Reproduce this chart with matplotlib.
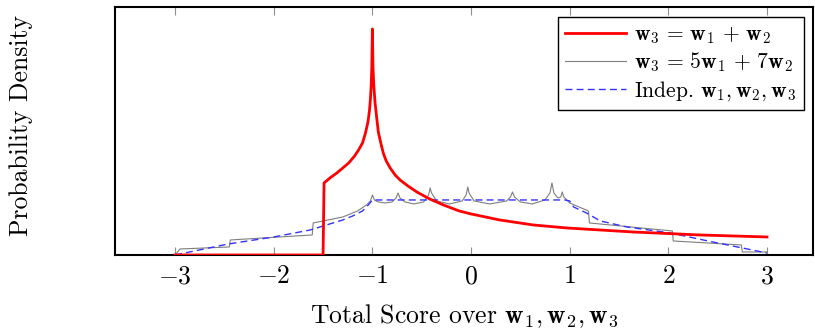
import matplotlib
matplotlib.use("Agg")
import matplotlib.pyplot as plt

plt.rcParams['font.family'] = 'serif'
plt.rcParams['font.serif'] = ['cmr10']
plt.rcParams['mathtext.fontset'] = 'cm'
plt.rcParams['axes.formatter.use_mathtext'] = True

# w3 = w1 + w2
red_x = [-3.0, -1.5, -1.49, -1.43, -1.36, -1.30, -1.24, -1.18, -1.14, -1.10, -1.07,
         -1.045, -1.03, -1.02, -1.012, -1.006, -1.0,
         -0.994, -0.986, -0.973, -0.955, -0.94, -0.915, -0.89, -0.86, -0.82, -0.77,
         -0.72, -0.64, -0.55, -0.42, -0.28, -0.12,
         0.0, 0.29, 0.63, 0.97, 1.64, 2.32, 3.0]
red_y = [0.0, 0.0, 0.72, 0.77, 0.82, 0.87, 0.92, 0.99, 1.05, 1.12, 1.22,
         1.33, 1.44, 1.56, 1.70, 1.88, 2.26,
         1.88, 1.70, 1.52, 1.36, 1.23, 1.12, 1.02, 0.94, 0.87, 0.80,
         0.75, 0.69, 0.63, 0.56, 0.50, 0.44,
         0.41, 0.35, 0.30, 0.27, 0.23, 0.20, 0.18]

# w3 = 5w1 + 7w2
gray_x = [-3.00, -2.95, -2.45, -2.44, -1.61, -1.60, -1.30, -1.15, -1.06, -1.02, -1.00,
          -0.98, -0.94, -0.87, -0.80, -0.76, -0.74,
          -0.72, -0.67, -0.58, -0.48, -0.43, -0.415,
          -0.40, -0.35, -0.22, -0.09, -0.05, -0.033,
          -0.02, 0.03, 0.19, 0.36, 0.40, 0.42,
          0.44, 0.50, 0.62, 0.75, 0.80, 0.82,
          0.84, 0.88, 0.91, 0.925,
          0.94, 1.00, 1.19, 1.20, 2.04, 2.05, 2.74, 2.75, 3.00]
gray_y = [0.0, 0.06, 0.08, 0.15, 0.20, 0.32, 0.38, 0.44, 0.50, 0.54, 0.60,
          0.55, 0.53, 0.52, 0.53, 0.57, 0.62,
          0.57, 0.53, 0.51, 0.53, 0.60, 0.67,
          0.62, 0.54, 0.51, 0.54, 0.60, 0.68,
          0.62, 0.54, 0.51, 0.54, 0.58, 0.63,
          0.58, 0.53, 0.51, 0.55, 0.62, 0.72,
          0.62, 0.57, 0.58, 0.63,
          0.58, 0.52, 0.44, 0.32, 0.24, 0.14, 0.10, 0.03, 0.03]

# independent w1, w2, w3
blue_x = [-3.0, -2.46, -2.0, -1.63, -1.3, -1.2, -1.1, -1.05, -1.0, 0.95, 1.0,
          1.04, 1.17, 1.31, 1.58, 2.02, 2.45, 3.0]
blue_y = [0.0, 0.11, 0.18, 0.25, 0.35, 0.39, 0.44, 0.49, 0.55, 0.55, 0.54,
          0.48, 0.42, 0.34, 0.28, 0.22, 0.13, 0.02]

xticks = [-3, -2, -1, 0, 1, 2, 3]

fig = plt.figure(figsize=(8.15, 3.29), dpi=100)
ax = fig.add_axes([0.141, 0.225, 0.857, 0.754])

ax.plot(red_x, red_y, color='red', lw=2.0,
        label=r'$\mathbf{w}_3\,=\,\mathbf{w}_1\,+\,\mathbf{w}_2$', zorder=3)
ax.plot(gray_x, gray_y, color='#7f7f7f', lw=0.8,
        label=r'$\mathbf{w}_3\,=\,5\mathbf{w}_1\,+\,7\mathbf{w}_2$', zorder=2)
ax.plot(blue_x, blue_y, color='#3333ff', lw=1.0, ls=(0, (5, 3)),
        label=r'Indep. $\mathbf{w}_1, \mathbf{w}_2, \mathbf{w}_3$', zorder=2)

ax.set_xlim(-3.61, 3.47)
ax.set_ylim(0, 2.48)
ax.set_xticks(xticks)
ax.set_yticks([])
ax.tick_params(axis='x', direction='in', top=True, length=6, width=0.8,
               color='#909090', labelsize=18.5, pad=7)
for s in ax.spines.values():
    s.set_linewidth(1.5)

ax.set_xlabel(r'Total Score over $\mathbf{w}_1, \mathbf{w}_2, \mathbf{w}_3$', fontsize=18.5)
ax.xaxis.set_label_coords(0.5, -0.19)
ax.set_ylabel('Probability Density', fontsize=18.5)
ax.yaxis.set_label_coords(-0.117, 0.52)

leg = ax.legend(loc='upper right', fontsize=15.5, fancybox=False, framealpha=1,
                edgecolor='black', borderaxespad=0.45, handlelength=2.8,
                handletextpad=0.4, labelspacing=0.22, borderpad=0.35)
leg.get_frame().set_linewidth(1.0)

plt.savefig('out.png', dpi=100)
